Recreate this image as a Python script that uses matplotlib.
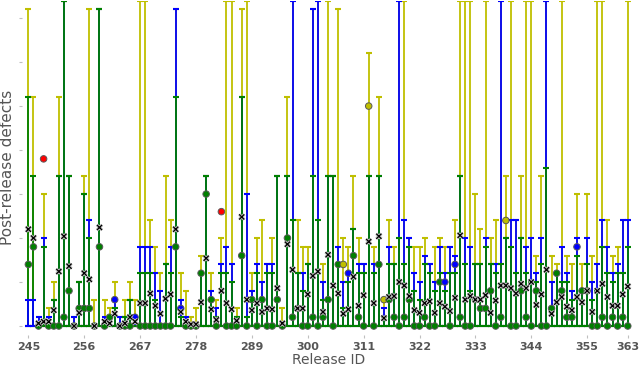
import matplotlib
matplotlib.use('Agg')
import matplotlib.pyplot as plt
import matplotlib.patheffects as pe

releases = list(range(245, 364))

# upper ends of the three bars for each release (yellow, blue, green)
upper_y = [36, 26, 1, 15, 2, 5, 26, 37, 17, 1, 5, 17, 36, 3, 36, 3, 2, 5, 1, 3,
           5, 3, 37, 37, 12, 9, 6, 17, 12, 36, 6, 4, 1, 2, 8, 17, 6, 3, 10, 37,
           37, 2, 36, 37, 6, 10, 12, 7, 10, 17, 2, 26, 37, 12, 9, 9, 36, 37, 7, 37,
           17, 36, 10, 9, 17, 10, 7, 31, 9, 26, 3, 12, 9, 37, 37, 10, 9, 9, 10, 7,
           9, 10, 9, 9, 12, 37, 37, 37, 15, 11, 37, 10, 12, 37, 17, 37, 12, 17, 37, 37,
           8, 17, 37, 8, 7, 37, 8, 7, 15, 7, 15, 8, 37, 37, 12, 8, 9, 12, 37]
upper_b = [3, 3, 1, 10, 1, 3, 17, 37, 17, 1, 5, 15, 12, 0, 36, 1, 1, 3, 1, 1,
           3, 1, 9, 9, 9, 6, 4, 7, 9, 36, 3, 1, 0, 0, 6, 17, 4, 2, 7, 9,
           7, 1, 26, 15, 4, 7, 5, 7, 7, 17, 0, 17, 37, 6, 6, 7, 36, 37, 5, 17,
           17, 9, 5, 6, 11, 7, 7, 17, 7, 17, 2, 9, 7, 37, 12, 10, 6, 5, 8, 7,
           5, 9, 6, 9, 8, 17, 10, 9, 7, 7, 10, 7, 7, 37, 10, 12, 12, 10, 9, 10,
           6, 10, 37, 5, 6, 9, 6, 4, 10, 4, 10, 5, 7, 12, 9, 6, 7, 12, 12]
upper_g = [26, 17, 0, 9, 0, 3, 17, 37, 17, 0, 5, 15, 10, 0, 36, 0, 1, 2, 0, 1,
           3, 0, 6, 6, 6, 3, 0, 7, 6, 26, 1, 0, 0, 0, 6, 17, 3, 1, 6, 6,
           5, 1, 26, 1, 3, 6, 3, 6, 6, 17, 0, 17, 12, 6, 4, 7, 17, 12, 3, 17,
           17, 7, 2, 5, 11, 6, 6, 17, 6, 17, 1, 7, 7, 10, 7, 9, 4, 3, 7, 6,
           4, 6, 4, 6, 6, 17, 7, 4, 7, 7, 9, 7, 6, 7, 10, 9, 6, 10, 6, 5,
           5, 7, 18, 2, 6, 5, 5, 3, 8, 4, 7, 3, 4, 9, 6, 5, 6, 6, 9]
actual = [7, 9, 0, 19, 0, 0, 0, 1, 4, 0, 2, 2, 2, 0, 9, 0, 1, 3, 0, 0,
          0, 1, 0, 0, 0, 0, 0, 0, 0, 9, 2, 0, 0, 0, 6, 15, 3, 0, 13, 0,
          0, 0, 8, 0, 3, 0, 3, 0, 0, 3, 0, 10, 1, 2, 0, 0, 1, 0, 1, 3,
          0, 7, 7, 6, 8, 1, 0, 25, 0, 7, 3, 3, 1, 0, 1, 3, 0, 0, 1, 0,
          0, 5, 5, 0, 7, 1, 0, 0, 3, 2, 2, 4, 0, 1, 12, 0, 0, 4, 1, 0,
          4, 0, 0, 2, 6, 4, 1, 1, 9, 4, 4, 0, 0, 1, 0, 1, 0, 1, 0]
predicted = [11, 10, 0.3, 0.5, 0.5, 1.8, 6.2, 10.2, 6.8, 0, 1.5, 6, 5.3, 0, 11.2, 0.5, 0.3, 1.4, 0, 0.3,
             1, 0.5, 2.6, 2.6, 3.7, 2.3, 1.4, 3.1, 3.6, 11, 1.6, 0.5, 0.2, 0.2, 2.7, 7.7, 1.9, 0.7, 4, 2.6,
             1.9, 0.6, 12.4, 3, 1.8, 2.6, 1.6, 2, 1.9, 4.3, 0.3, 9.3, 6.4, 2, 2, 3.6, 5.7, 6.2, 1.6, 8.1,
             4.6, 3.7, 1.4, 1.9, 5.6, 2.3, 3.5, 9.6, 2.6, 10.2, 0.9, 3.3, 3.4, 5, 4.6, 3.4, 1.8, 1.5, 2.6, 2.8,
             1.5, 2.6, 2.2, 1.7, 3.2, 10.3, 3, 3.4, 3, 3, 3.5, 1.5, 2.9, 4.6, 4.6, 4.3, 3.7, 4.8, 4.3, 5,
             2.4, 3.6, 6.4, 1.4, 2.7, 3.3, 2.2, 1.8, 3.3, 2.7, 4, 1.6, 4, 4.8, 3.3, 2.3, 2.3, 3.6, 4.5]
tick_ids = [245, 256, 267, 278, 289, 300, 311, 322, 333, 344, 355, 363]


def circle_colour(a, g, b, y):
    if a <= g:
        return 'g'
    if a <= b:
        return 'b'
    if a <= y:
        return 'y'
    return 'r'


fig = plt.figure(figsize=(6.4, 3.66), dpi=100)
ax = fig.add_axes([0.0344, 0.0852, 0.9576, 0.9134])

for i, r in enumerate(releases):
    bars = [(upper_y[i], 0, 'y'), (upper_b[i], 1, 'b'), (upper_g[i], 2, 'g')]
    # tallest first so the shorter bars stay visible on top
    bars.sort(key=lambda b: (-b[0], b[1]))
    for k, (v, _, c) in enumerate(bars):
        ax.errorbar(r, 0, yerr=[[0], [v]], fmt='none', ecolor=c,
                    elinewidth=1.3, capsize=2, capthick=1.5, zorder=2 + k * 0.1)

colours = [circle_colour(actual[i], upper_g[i], upper_b[i], upper_y[i])
           for i in range(len(releases))]
ax.scatter(releases, actual, c=colours, s=22, edgecolors='0.35', linewidths=0.7,
           zorder=5, clip_on=False)
ax.scatter(releases, predicted, marker='x', c='k', s=14, linewidths=0.9, zorder=6,
           path_effects=[pe.withStroke(linewidth=2.2, foreground='0.75')])

ax.set_xlim(243.75, 364.4)
ax.set_ylim(-1, 37)
ax.set_yticks(range(0, 36, 5))
ax.set_yticklabels([])
ax.set_xticks(tick_ids)
ax.set_xticklabels([str(t) for t in tick_ids], fontweight='bold', color='#555555', fontsize=8)
ax.tick_params(axis='y', length=2, color='0.75', width=0.8)
ax.tick_params(axis='x', length=2, color='0.75', width=0.8, pad=3)
for s in ax.spines.values():
    s.set_visible(False)

ax.set_xlabel('Release ID', color='#555555', fontsize=10, labelpad=1)
ax.set_ylabel('Post-release defects', color='#555555', fontsize=11)
ax.yaxis.set_label_coords(-0.011, 0.5)

fig.savefig('out.png', dpi=100)
